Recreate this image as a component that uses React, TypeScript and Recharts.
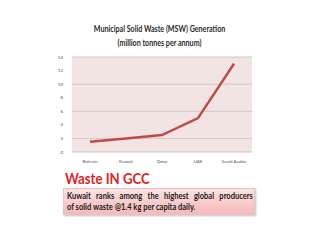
import { CartesianGrid, Line, LineChart, XAxis, YAxis } from "recharts";

const countries = ["Bahrain", "Kuwait", "Qatar", "UAE", "Saudi Arabia"];
const mswValues = [1.5, 2, 2.5, 5, 13];
const yTicks = [0, 2, 4, 6, 8, 10, 12, 14];

const data = countries.map((country, i) => ({ country, msw: mswValues[i] }));

const font = "Lato, 'Open Sans', sans-serif";

export default function App() {
	return (
		<div
			style={{
				position: "fixed",
				left: 0,
				top: 0,
				width: 320,
				height: 240,
				background: "#ffffff",
				fontFamily: font,
			}}
		>
			<div
				style={{
					position: "absolute",
					left: 0,
					top: 22,
					width: 320,
					textAlign: "center",
					fontWeight: "bold",
					fontSize: 9.5,
					lineHeight: "14px",
					color: "#2b2b2b",
					transform: "scaleX(0.75)",
					transformOrigin: "158px 0",
					whiteSpace: "nowrap",
				}}
			>
				Municipal Solid Waste (MSW) Generation
				<br />
				(million tonnes per annum)
			</div>
			<div style={{ position: "absolute", left: 0, top: 0 }}>
				<LineChart
					width={320}
					height={240}
					data={data}
					margin={{ top: 57, right: 68, left: 0, bottom: 68 }}
					style={{ fontFamily: font }}
				>
					<CartesianGrid
						vertical={false}
						stroke="#d2c6c6"
						fill="#f3e4e4"
						fillOpacity={1}
					/>
					<XAxis
						dataKey="country"
						padding={{ left: 18, right: 18 }}
						tickLine={false}
						axisLine={false}
						height={20}
						tick={{ fontSize: 4.5, fill: "#555555" }}
						tickMargin={2}
						interval={0}
					/>
					<YAxis
						width={72}
						domain={[0, 14]}
						ticks={yTicks}
						tickLine={false}
						axisLine={false}
						tick={{ fontSize: 4.5, fill: "#555555" }}
						tickMargin={3}
					/>
					<Line
						dataKey="msw"
						type="linear"
						stroke="#be4b48"
						strokeWidth={2.5}
						dot={false}
						isAnimationActive={false}
					/>
				</LineChart>
			</div>
			<div
				style={{
					position: "absolute",
					left: 65,
					top: 169,
					fontSize: 15,
					fontWeight: "bold",
					color: "#e3221c",
					lineHeight: "18px",
					whiteSpace: "nowrap",
					transform: "scaleX(0.88)",
					transformOrigin: "0 0",
				}}
			>
				Waste IN GCC
			</div>
			<div
				style={{
					position: "absolute",
					left: 63,
					top: 188,
					width: 192,
					height: 27,
					boxSizing: "border-box",
					background: "linear-gradient(#fde2e2, #f6b9b9)",
					border: "1px solid #e2c4c4",
					boxShadow: "1px 1px 2px rgba(0,0,0,0.25)",
				}}
			>
				<div
					style={{
						position: "absolute",
						left: 3,
						top: 2,
						width: 210,
						fontSize: 8.5,
						fontWeight: "bold",
						lineHeight: "11px",
						color: "#1a1a1a",
						whiteSpace: "nowrap",
						transform: "scaleX(0.885)",
						transformOrigin: "0 0",
					}}
				>
					<div style={{ textAlign: "justify", textAlignLast: "justify", whiteSpace: "normal" }}>
						Kuwait ranks among the highest global producers
					</div>
					<div>of solid waste @1.4 kg per capita daily.</div>
				</div>
			</div>
		</div>
	);
}
